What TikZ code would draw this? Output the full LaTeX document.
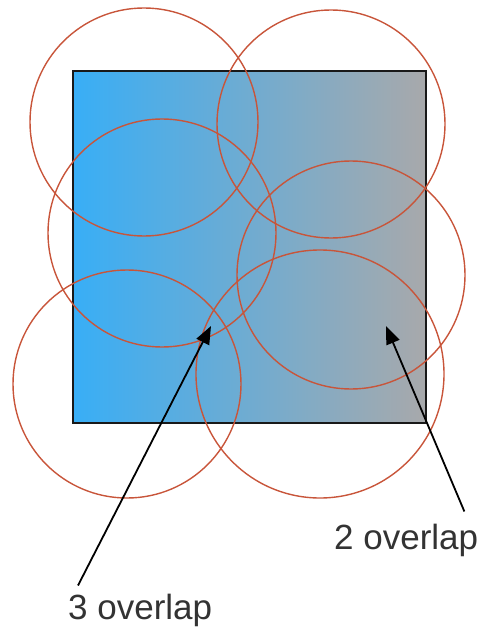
\documentclass[tikz,border=0pt]{standalone}
\usepackage{fontspec}
\setmainfont{Liberation Sans}
\usepackage{tikz}
\usetikzlibrary{arrows.meta, positioning, calc}
\definecolor{skyblue}{HTML}{38AEF6}
\definecolor{steelgray}{HTML}{A8A9AB}
\definecolor{ringred}{HTML}{C8553A}

\begin{document}
\begin{tikzpicture}[x=1pt, y=-1pt,
  ring/.style={draw=ringred, line width=1.4pt},
  arrow/.style={-{Triangle[length=18pt, width=14pt]}, line width=1.8pt, draw=black},
  label/.style={font=\fontsize{35}{40}\selectfont, text=black!80, inner sep=0pt}
]
  \useasboundingbox (0,0) rectangle (484,631);

  % covered area
  \shade[left color=skyblue, right color=steelgray] (73,71) rectangle (426,423);
  \draw[line width=2pt, black!90] (73,71) rectangle (426,423);

  % sensing ranges
  \foreach \cx/\cy/\r in {144/122/114, 331/124/114, 162/233/114,
                          351/275/114, 127/384/114, 320/374/124}
    \draw[ring] (\cx,\cy) circle[radius=\r];

  % labels
  \node[label, anchor=west] (three) at (68,610) {3 overlap};
  \node[label, anchor=west] (two) at (334,540) {2 overlap};
  \coordinate (threetip) at (211,326);
  \coordinate (twotip) at (386,326);

  \draw[arrow] ($(three.north west)+(10,-8)$) -- (threetip);
  \draw[arrow] ($(two.north east)+(-14,-12)$) -- (twotip);
\end{tikzpicture}
\end{document}
